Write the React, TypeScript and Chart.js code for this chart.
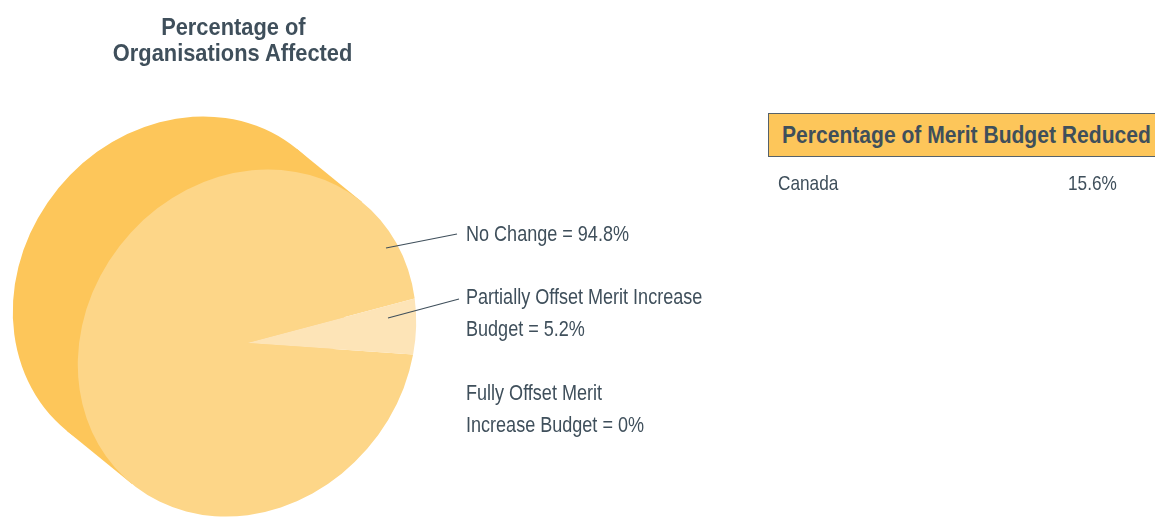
import React, { useEffect, useRef } from 'react';
import { Chart, registerables } from 'chart.js';

Chart.register(...registerables);

// ---- data ----
const categories = ['No Change', 'Partially Offset Merit Increase Budget', 'Fully Offset Merit Increase Budget'];
const values = [94.8, 5.2, 0];
const labelLines = [
  [`No Change = ${values[0]}%`],
  ['Partially Offset Merit Increase', `Budget = ${values[1]}%`],
  ['Fully Offset Merit', `Increase Budget = ${values[2]}%`],
];
const chartTitle = ['Percentage of', 'Organisations Affected'];
const tableHeader = 'Percentage of Merit Budget Reduced';
const tableRows = ['Canada'];
const tableValues = ['15.6%'];

// ---- style ----
const FRONT = '#FDD688';
const SIDE = '#FDC65A';
const WEDGE = '#FDE4B7';
const TEXT = '#3F4F5B';
const FONT = "'Liberation Sans', Arial, sans-serif";
const NARROW = 0.82;
const sliceColors = [FRONT, WEDGE, FRONT];

// 3D look: the pie face is squeezed along the depth direction, the side is swept back
const DEPTH_X = -65;
const DEPTH_Y = -53;
const SQUEEZE = 0.88;

const depthPlugin = {
  id: 'depth3d',
  beforeDatasetsDraw(chart: any) {
    const arc = chart.getDatasetMeta(0).data[0];
    if (!arc) return;
    const { x, y, outerRadius: r } = arc.getProps(['x', 'y', 'outerRadius'], true);
    const len = Math.hypot(DEPTH_X, DEPTH_Y);
    const ux = DEPTH_X / len;
    const uy = DEPTH_Y / len;
    const s = 1 - SQUEEZE;
    const ctx = chart.ctx;
    ctx.save(); // restored in afterDatasetsDraw
    ctx.translate(x, y);
    ctx.transform(1 - s * ux * ux, -s * ux * uy, -s * ux * uy, 1 - s * uy * uy, 0, 0);
    ctx.translate(-x, -y);
    // side (in pre-transform coordinates)
    const dx = DEPTH_X / SQUEEZE;
    const dy = DEPTH_Y / SQUEEZE;
    const nx = -uy;
    const ny = ux;
    ctx.fillStyle = SIDE;
    ctx.beginPath();
    ctx.arc(x + dx, y + dy, r, 0, Math.PI * 2);
    ctx.fill();
    ctx.beginPath();
    ctx.moveTo(x + nx * r, y + ny * r);
    ctx.lineTo(x + dx + nx * r, y + dy + ny * r);
    ctx.lineTo(x + dx - nx * r, y + dy - ny * r);
    ctx.lineTo(x - nx * r, y - ny * r);
    ctx.closePath();
    ctx.fill();
  },
  afterDatasetsDraw(chart: any) {
    chart.ctx.restore();
  },
};

// label layout in px relative to pie centre
const labelLayout = [
  { line: [139, -95, 210, -109], tx: 219, ty: -108 },
  { line: [141, -25, 212, -44], tx: 219, ty: -45 },
  { line: null, tx: 219, ty: 51 },
];

const labelPlugin = {
  id: 'sideLabels',
  afterDatasetsDraw(chart: any) {
    const arc = chart.getDatasetMeta(0).data[0];
    if (!arc) return;
    const { x, y } = arc.getProps(['x', 'y'], true);
    const ctx = chart.ctx;
    ctx.save();
    ctx.strokeStyle = TEXT;
    ctx.lineWidth = 1.2;
    ctx.fillStyle = TEXT;
    ctx.font = `22px ${FONT}`;
    ctx.textBaseline = 'middle';
    ctx.textAlign = 'left';
    labelLayout.forEach((l, i) => {
      if (l.line) {
        ctx.beginPath();
        ctx.moveTo(x + l.line[0], y + l.line[1]);
        ctx.lineTo(x + l.line[2], y + l.line[3]);
        ctx.stroke();
      }
      labelLines[i].forEach((t, j) => {
        ctx.save();
        ctx.translate(x + l.tx, y + l.ty + j * 32);
        ctx.scale(NARROW, 1);
        ctx.fillText(t, 0, 0);
        ctx.restore();
      });
    });
    ctx.restore();
  },
};

function Squeeze({ k, origin, children }: { k: number; origin: string; children: any }) {
  return (
    <span style={{ display: 'inline-block', transform: `scaleX(${k})`, transformOrigin: origin, whiteSpace: 'nowrap' }}>
      {children}
    </span>
  );
}

export default function App() {
  const ref = useRef<HTMLCanvasElement>(null);
  useEffect(() => {
    if (!ref.current) return;
    const chart = new Chart(ref.current, {
      type: 'pie',
      data: {
        labels: categories,
        datasets: [
          {
            data: values,
            backgroundColor: sliceColors,
            borderWidth: 0,
            hoverOffset: 0,
            radius: 182,
            clip: false,
          } as any,
        ],
      },
      options: {
        responsive: false,
        animation: false,
        rotation: 97.36,
        layout: { padding: { left: 75, top: 171, right: 736, bottom: 2 } },
        plugins: {
          legend: { display: false },
          tooltip: { enabled: false },
          title: { display: false },
        },
        events: [],
      },
      plugins: [depthPlugin, labelPlugin],
    });
    return () => chart.destroy();
  }, []);

  return (
    <div
      style={{
        position: 'absolute',
        left: 0,
        top: 0,
        width: 1155,
        height: 517,
        overflow: 'hidden',
        background: '#fff',
        fontFamily: FONT,
        color: TEXT,
      }}
    >
      <canvas ref={ref} width={1155} height={517} style={{ display: 'block', position: 'absolute', left: 0, top: 0 }} />
      <div
        style={{
          position: 'absolute',
          left: 0,
          top: 14,
          width: 466,
          textAlign: 'center',
          fontWeight: 'bold',
          fontSize: 24,
          lineHeight: '26px',
        }}
      >
        {chartTitle.map((t) => (
          <div key={t}>
            <Squeeze k={0.91} origin="center">
              {t}
            </Squeeze>
          </div>
        ))}
      </div>
      <div
        style={{
          position: 'absolute',
          left: 768,
          top: 113,
          width: 420,
          height: 44,
          boxSizing: 'border-box',
          border: '1.5px solid #56626B',
          background: SIDE,
          fontWeight: 'bold',
          fontSize: 24,
          lineHeight: '41px',
          paddingLeft: 13,
          whiteSpace: 'nowrap',
        }}
      >
        <Squeeze k={0.878} origin="left">
          {tableHeader}
        </Squeeze>
      </div>
      {tableRows.map((row, i) => (
        <React.Fragment key={row}>
          <div style={{ position: 'absolute', left: 778, top: 171 + i * 32, fontSize: 21, lineHeight: '24px' }}>
            <Squeeze k={NARROW} origin="left">
              {row}
            </Squeeze>
          </div>
          <div style={{ position: 'absolute', left: 1068, top: 171 + i * 32, fontSize: 21, lineHeight: '24px' }}>
            <Squeeze k={NARROW} origin="left">
              {tableValues[i]}
            </Squeeze>
          </div>
        </React.Fragment>
      ))}
    </div>
  );
}
